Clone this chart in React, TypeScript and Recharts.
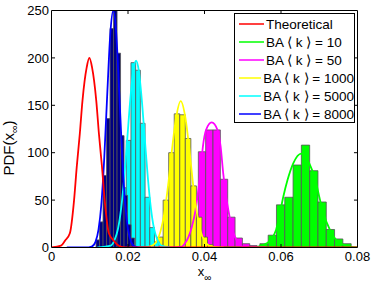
import {
  ComposedChart,
  Line,
  XAxis,
  YAxis,
  ReferenceArea,
  ReferenceLine,
  Legend,
  Label,
} from "recharts";

const xTicks = [0, 0.02, 0.04, 0.06, 0.08];
const yTicks = [0, 50, 100, 150, 200, 250];

// histogram bin centres / heights
const ba10BinX = [0.05556, 0.05773, 0.0599, 0.06207, 0.06424, 0.06641, 0.06858, 0.07075, 0.07292, 0.07509, 0.07726, 0.07943];
const ba10BinH = [4, 13, 45, 53, 87, 108, 81, 48, 19, 9, 4, 2];

const ba50BinX = [0.03551, 0.03743, 0.03935, 0.04127, 0.04319, 0.04511, 0.04703, 0.04895, 0.05087, 0.05279];
const ba50BinH = [12, 35, 101, 124, 124, 72, 32, 10, 4, 2];

const ba1000BinX = [0.02701, 0.02846, 0.02991, 0.03136, 0.03281, 0.03426, 0.03571, 0.03716, 0.03861, 0.04006, 0.04151];
const ba1000BinH = [3, 11, 50, 100, 141, 140, 115, 65, 32, 11, 3];

const ba5000BinX = [0.01647, 0.0177, 0.01893, 0.02016, 0.02139, 0.02262, 0.02385, 0.02508, 0.02631, 0.02754];
const ba5000BinH = [5, 21, 63, 113, 195, 187, 131, 53, 21, 6];

const ba8000BinX = [0.0121, 0.01302, 0.01393, 0.01485, 0.01576, 0.01668, 0.01759, 0.01851, 0.01942, 0.02034, 0.02125];
const ba8000BinH = [8, 27, 76, 136, 231, 250, 205, 118, 55, 24, 10];

// fitted / theoretical curves
const theoX = [0, 0.0025, 0.0035, 0.0048, 0.0059, 0.0066, 0.0074, 0.0081, 0.0092, 0.0099, 0.0106, 0.0117, 0.0124, 0.0132, 0.0139, 0.015, 0.0163, 0.0175, 0.019, 0.08];
const theoY = [0, 2, 7, 15, 50, 85, 120, 155, 190, 200, 190, 155, 120, 85, 50, 15, 7, 2, 0, 0];

const ba10X = [0.045, 0.0525, 0.0541, 0.0563, 0.0587, 0.0597, 0.0606, 0.0617, 0.0632, 0.0653, 0.0674, 0.069, 0.07, 0.0711, 0.0728, 0.0754, 0.078, 0.08];
const ba10Y = [0, 0, 1, 4.4, 18.5, 36, 53.6, 71.2, 88.8, 99, 88.8, 71.2, 53.6, 36, 18.5, 4.4, 1, 0];

const ba50X = [0.028, 0.031, 0.0341, 0.0348, 0.0358, 0.0367, 0.0376, 0.0382, 0.0389, 0.0396, 0.0404, 0.04188, 0.0434, 0.0442, 0.0449, 0.0456, 0.0463, 0.0471, 0.048, 0.049, 0.05, 0.053, 0.056];
const ba50Y = [0, 0, 1, 4, 11, 22, 38, 55, 78, 107, 124, 132, 124, 107, 78, 55, 38, 22, 11, 4, 1, 0, 0];

const ba1000X = [0.022, 0.0255, 0.0265, 0.0275, 0.0285, 0.0295, 0.0305, 0.0315, 0.0325, 0.03378, 0.035, 0.036, 0.037, 0.038, 0.039, 0.04, 0.041, 0.042, 0.045];
const ba1000Y = [0, 1, 2.3, 6.6, 17, 36, 66, 103, 135, 154.5, 137, 105, 67, 37, 17, 7, 2.4, 1, 0];

const ba5000X = [0.012, 0.0155, 0.0165, 0.0174, 0.0182, 0.019, 0.0198, 0.0206, 0.0214, 0.0221, 0.0228, 0.0236, 0.0244, 0.0252, 0.026, 0.0268, 0.0277, 0.0287, 0.031];
const ba5000Y = [0, 2, 8, 20, 41, 73, 114, 156, 187, 197, 187, 156, 114, 73, 41, 20, 8, 2, 0];

const ba8000X = [0.004, 0.009, 0.0105, 0.0115, 0.0123, 0.013, 0.0138, 0.0146, 0.0154, 0.01616, 0.0169, 0.0177, 0.0185, 0.0193, 0.02, 0.0208, 0.0218, 0.024, 0.026];
const ba8000Y = [0, 0, 1, 6, 19, 44, 95, 164, 227, 250, 227, 164, 95, 44, 19, 6, 1, 0, 0];

const legendNames = [
  "Theoretical",
  "BA \u27e8 k \u27e9 = 10",
  "BA \u27e8 k \u27e9 = 50",
  "BA \u27e8 k \u27e9 = 1000",
  "BA \u27e8 k \u27e9 = 5000",
  "BA \u27e8 k \u27e9 = 8000",
];
const legendColors = ["#ff0000", "#00ff00", "#ff00ff", "#ffff00", "#00ffff", "#0000ff"];

const FONT = "'Liberation Sans', Arial, Helvetica, sans-serif";

const toPoints = (xs: number[], ys: number[]) => xs.map((x, i) => ({ x, y: ys[i] }));

// drawn in this order, later ones on top
const histograms = [
  { key: "h10", xs: ba10BinX, hs: ba10BinH, fill: "#00ff00" },
  { key: "h50", xs: ba50BinX, hs: ba50BinH, fill: "#ff00ff" },
  { key: "h1000", xs: ba1000BinX, hs: ba1000BinH, fill: "#ffff00" },
  { key: "h5000", xs: ba5000BinX, hs: ba5000BinH, fill: "#00ffff" },
  { key: "h8000", xs: ba8000BinX, hs: ba8000BinH, fill: "#000080" },
];

const curves = [
  { key: "c10", name: legendNames[1], data: toPoints(ba10X, ba10Y), color: legendColors[1] },
  { key: "c50", name: legendNames[2], data: toPoints(ba50X, ba50Y), color: legendColors[2] },
  { key: "c1000", name: legendNames[3], data: toPoints(ba1000X, ba1000Y), color: legendColors[3] },
  { key: "c5000", name: legendNames[4], data: toPoints(ba5000X, ba5000Y), color: legendColors[4] },
  { key: "c8000", name: legendNames[5], data: toPoints(ba8000X, ba8000Y), color: legendColors[5] },
  { key: "theo", name: legendNames[0], data: toPoints(theoX, theoY), color: legendColors[0] },
];

const TICK_X = 0.00092; // ~3.5px
const TICK_Y = 3.7;

function LegendBox() {
  return (
    <div
      style={{
        boxSizing: "border-box",
        width: 121,
        height: 110,
        border: "1px solid #000",
        background: "#fff",
        paddingTop: 1.5,
        fontFamily: FONT,
        fontSize: 13.5,
        color: "#000",
      }}
    >
      {legendNames.map((name, i) => (
        <div key={name} style={{ height: 17.85, display: "flex", alignItems: "center" }}>
          <svg width={26} height={4} style={{ marginLeft: 3, marginRight: 2 }}>
            <line x1={1} y1={2} x2={26} y2={2} stroke={legendColors[i]} strokeWidth={1.5} />
          </svg>
          <span style={{ whiteSpace: "nowrap" }}>{name}</span>
        </div>
      ))}
    </div>
  );
}

export default function App() {
  return (
    <div style={{ position: "absolute", left: 0, top: 0, width: 374, height: 285, background: "#fff" }}>
      <ComposedChart width={374} height={285} margin={{ top: 10.5, right: 16.5, left: 0, bottom: 0 }}>
        <XAxis
          type="number"
          dataKey="x"
          domain={[0, 0.08]}
          ticks={xTicks}
          allowDataOverflow
          height={37.5}
          tickLine={false}
          tickSize={0}
          tickMargin={4}
          axisLine={{ stroke: "#000" }}
          tick={{ fill: "#000", fontSize: 13, fontFamily: FONT }}
          tickFormatter={(v: number) => (v === 0 ? "0" : v.toFixed(2))}
        >
          <Label
            content={() => (
              <text x={204.5} y={275.5} textAnchor="middle" fontFamily={FONT} fontSize={13} fill="#000">
                x<tspan dy={5} fontSize={10}>∞</tspan>
              </text>
            )}
          />
        </XAxis>
        <YAxis
          type="number"
          domain={[0, 250]}
          ticks={yTicks}
          allowDataOverflow
          width={51.5}
          tickLine={false}
          tickSize={0}
          tickMargin={2.5}
          axisLine={{ stroke: "#000" }}
          tick={{ fill: "#000", fontSize: 13, fontFamily: FONT }}
        >
          <Label
            content={() => (
              <text transform="translate(13.5,148) rotate(-90)" textAnchor="middle" fontFamily={FONT} fontSize={15} fill="#000">
                PDF(x<tspan dy={4} fontSize={10.5}>∞</tspan>
                <tspan dy={-4}>)</tspan>
              </text>
            )}
          />
        </YAxis>

        {histograms.map((h) => {
          const w = (h.xs[h.xs.length - 1] - h.xs[0]) / (h.xs.length - 1);
          return h.xs.map((c, i) => (
            <ReferenceArea
              key={h.key + i}
              x1={c - w / 2}
              x2={c + w / 2}
              y1={0}
              y2={h.hs[i]}
              fill={h.fill}
              fillOpacity={1}
              stroke="#555"
              strokeWidth={0.8}
              strokeOpacity={1}
            />
          ));
        })}

        {curves.map((c) => (
          <Line
            key={c.key}
            data={c.data}
            dataKey="y"
            name={c.name}
            type="monotone"
            stroke={c.color}
            strokeWidth={1.8}
            dot={false}
            activeDot={false}
            isAnimationActive={false}
          />
        ))}

        {/* box + inward ticks */}
        <ReferenceLine y={250} stroke="#000" strokeWidth={1} />
        <ReferenceLine x={0.08} stroke="#000" strokeWidth={1} />
        {xTicks.slice(1, -1).map((t) => (
          <ReferenceLine key={"xb" + t} segment={[{ x: t, y: 0 }, { x: t, y: TICK_Y }]} stroke="#000" />
        ))}
        {xTicks.slice(1, -1).map((t) => (
          <ReferenceLine key={"xt" + t} segment={[{ x: t, y: 250 }, { x: t, y: 250 - TICK_Y }]} stroke="#000" />
        ))}
        {yTicks.slice(1, -1).map((t) => (
          <ReferenceLine key={"yl" + t} segment={[{ x: 0, y: t }, { x: TICK_X, y: t }]} stroke="#000" />
        ))}
        {yTicks.slice(1, -1).map((t) => (
          <ReferenceLine key={"yr" + t} segment={[{ x: 0.08, y: t }, { x: 0.08 - TICK_X, y: t }]} stroke="#000" />
        ))}

        <Legend
          layout="vertical"
          align="center"
          verticalAlign="middle"
          content={() => <LegendBox />}
          wrapperStyle={{ left: 234, top: 13, width: 121, height: 110 }}
        />
      </ComposedChart>
    </div>
  );
}
